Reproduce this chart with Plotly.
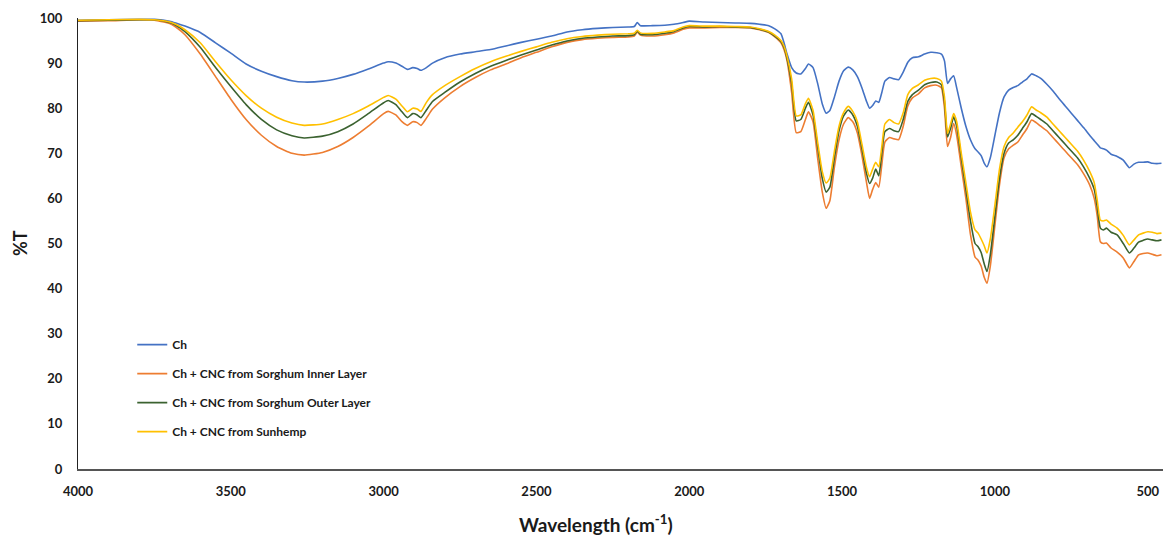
import plotly.graph_objects as go

wavenumber = [4000, 3900, 3800, 3750, 3700, 3680, 3650, 3600, 3550, 3500, 3450, 3400, 3350, 3300, 3260, 3200, 3150, 3100, 3050, 3000,
              2985, 2960, 2940, 2922, 2905, 2890, 2878, 2860, 2840, 2800, 2750, 2700, 2650, 2600, 2550, 2500, 2450, 2400, 2350, 2300,
              2250, 2200, 2180, 2170, 2160, 2120, 2080, 2050, 2020, 2000, 1950, 1900, 1850, 1800, 1770, 1740, 1720, 1700, 1690, 1680,
              1665, 1650, 1635, 1620, 1610, 1595, 1580, 1565, 1552, 1540, 1525, 1510, 1495, 1480, 1465, 1450, 1435, 1420, 1410, 1400,
              1390, 1380, 1370, 1360, 1345, 1330, 1315, 1300, 1285, 1270, 1250, 1230, 1210, 1190, 1175, 1165, 1155, 1145, 1135, 1125,
              1110, 1095, 1080, 1065, 1055, 1045, 1035, 1026, 1015, 1000, 985, 970, 955, 940, 925, 910, 895, 880, 865, 850,
              830, 810, 790, 770, 750, 730, 710, 690, 675, 665, 655, 645, 635, 620, 600, 580, 560, 545, 530, 515,
              500, 485, 470, 455]

ch = [99.5, 99.6, 99.7, 99.7, 99.3, 98.9, 98.2, 96.8, 94.5, 92.2, 89.8, 88.2, 87.0, 86.1, 85.8, 86.0, 86.6, 87.5, 88.7, 90.0,
      90.3, 90.0, 89.3, 88.6, 89.0, 88.8, 88.4, 89.0, 90.0, 91.2, 92.0, 92.5, 93.0, 93.8, 94.6, 95.3, 96.0, 96.9, 97.4, 97.7,
      97.9, 98.0, 98.1, 99.0, 98.3, 98.3, 98.4, 98.6, 99.0, 99.3, 99.1, 99.0, 98.9, 98.8, 98.6, 98.3, 97.6, 96.5, 94.5, 92.0,
      89.0, 87.8, 87.6, 88.8, 89.8, 89.0, 85.5, 81.0, 78.9, 79.5, 82.5, 86.0, 88.3, 89.1, 88.5, 87.0, 84.5, 81.5, 80.0, 80.6,
      81.6, 81.3, 83.5, 86.0, 86.8, 86.5, 86.3, 88.0, 90.2, 91.2, 91.4, 92.0, 92.4, 92.3, 92.0, 90.5, 85.5, 86.5, 87.2, 84.5,
      80.0, 76.0, 73.0, 71.0, 70.3, 69.5, 67.8, 67.0, 69.0, 74.0, 79.0, 82.5, 84.0, 84.6, 85.0, 85.8, 86.5, 87.6, 87.2, 86.6,
      85.3, 83.8, 82.1, 80.5, 78.9, 77.3, 75.7, 74.0, 72.8, 72.0, 71.2, 71.0, 70.7, 69.8, 69.3, 68.5, 66.8, 67.6, 68.0, 68.0,
      68.1, 67.8, 67.7, 67.8]

inner = [99.3, 99.4, 99.6, 99.5, 98.8, 98.0, 96.3, 92.0, 87.0, 82.0, 77.5, 74.0, 71.5, 70.0, 69.6, 70.2, 71.5, 73.5, 76.0, 78.8,
         79.3, 78.5, 77.0, 76.2, 77.0, 76.8, 76.2, 77.8, 79.8, 82.3, 84.8, 86.8, 88.5, 89.8, 91.2, 92.4, 93.6, 94.6, 95.2, 95.5,
         95.7, 95.8, 96.0, 96.9, 96.2, 96.0, 96.3, 96.7, 97.5, 97.8, 97.8, 97.9, 97.9, 97.8, 97.4, 96.8, 95.8, 94.5, 93.0, 90.5,
         83.5, 74.6, 74.8, 77.5, 79.2, 77.0, 69.0, 61.5, 57.8, 59.5, 67.0, 73.0, 76.5, 77.9, 77.0, 74.5, 69.5, 63.5, 60.0, 62.0,
         63.5, 62.5, 67.5, 72.5, 73.5, 73.2, 73.0, 76.0, 80.5, 82.3, 83.2, 84.5, 85.0, 85.1, 84.5, 80.0, 71.5, 73.5, 76.6, 74.0,
         67.0, 60.0, 52.0, 47.0, 46.3, 45.0, 42.5, 41.2, 45.0, 54.0, 63.0, 69.0, 71.0, 71.8, 72.5, 74.0, 75.5, 77.4, 76.8, 76.0,
         75.0, 73.5, 72.0, 70.5, 69.0, 67.5, 65.5, 63.0, 60.0, 56.0, 50.4, 50.0, 50.1, 49.0, 48.1, 46.8, 44.6, 46.0, 47.5, 47.8,
         47.9, 47.6, 47.3, 47.5]

outer = [99.4, 99.5, 99.6, 99.6, 99.0, 98.4, 97.0, 93.5, 89.0, 84.8, 80.8, 77.5, 75.2, 73.9, 73.4, 73.8, 74.8, 76.5, 78.8, 81.2,
         81.7, 80.8, 79.2, 77.9, 78.8, 78.5, 77.9, 79.6, 81.5, 83.5, 85.8, 87.7, 89.3, 90.6, 91.8, 92.9, 94.0, 94.9, 95.5, 95.8,
         96.0, 96.1, 96.3, 97.1, 96.4, 96.3, 96.6, 97.0, 97.8, 98.1, 98.0, 98.1, 98.0, 97.9, 97.5, 96.9, 96.0, 94.8, 93.5, 91.0,
         85.5, 77.2, 77.5, 80.0, 81.3, 78.5, 71.5, 64.5, 61.4, 62.5, 69.0, 75.0, 78.3, 79.6, 78.5, 76.0, 71.0, 65.5, 63.3, 64.5,
         66.5, 65.0, 70.0, 74.8, 75.5, 75.0, 74.8, 77.5, 81.5, 83.0, 84.0, 85.2, 85.7, 85.8, 85.2, 81.5, 73.6, 75.5, 78.1, 76.0,
         69.0, 62.0, 55.0, 50.0, 49.3, 48.0, 45.5, 43.8, 47.5, 56.0, 64.5, 70.0, 72.3, 73.0, 74.0, 75.5, 77.0, 78.8, 78.2, 77.5,
         76.5, 75.0, 73.5, 72.0, 70.5, 69.0, 67.0, 64.5, 62.0, 58.0, 53.4, 53.0, 53.4, 52.5, 51.9, 50.0, 47.9, 49.0, 50.3, 50.7,
         51.0, 50.8, 50.6, 50.8]

sunhemp = [99.5, 99.6, 99.7, 99.6, 99.1, 98.6, 97.4, 94.5, 90.3, 86.3, 82.8, 80.0, 78.0, 76.7, 76.2, 76.5, 77.5, 78.8, 80.5, 82.4,
           82.8, 82.0, 80.5, 79.2, 80.0, 79.8, 79.3, 81.3, 83.0, 85.0, 87.0, 88.8, 90.3, 91.5, 92.6, 93.6, 94.6, 95.4, 95.9, 96.2,
           96.4, 96.5, 96.6, 97.3, 96.7, 96.6, 96.9, 97.2, 98.0, 98.3, 98.2, 98.2, 98.1, 98.0, 97.6, 97.0, 96.2, 95.0, 93.8, 91.5,
           86.5, 78.3, 78.5, 81.0, 82.2, 79.5, 72.5, 66.0, 63.4, 64.5, 70.5, 76.0, 79.0, 80.4, 79.3, 77.0, 72.0, 66.8, 64.8, 66.5,
           68.0, 67.0, 71.5, 76.5, 77.5, 76.8, 76.5, 79.0, 83.0, 84.4, 85.2, 86.2, 86.6, 86.6, 86.0, 82.5, 74.4, 76.5, 78.8, 77.0,
           70.0, 63.5, 57.0, 53.0, 52.3, 51.0, 49.5, 47.9, 51.0, 58.5, 66.5, 71.5, 73.5, 74.5, 75.8, 77.0, 78.5, 80.3, 79.6, 79.0,
           78.0, 76.5, 75.0, 73.5, 72.0, 70.5, 68.5, 66.0, 63.5, 59.5, 55.2, 55.0, 55.2, 54.3, 53.4, 51.8, 49.7, 50.8, 51.9, 52.3,
           52.6, 52.5, 52.2, 52.3]

series_names = ["Ch", "Ch + CNC from Sorghum Inner Layer", "Ch + CNC from Sorghum Outer Layer", "Ch + CNC from Sunhemp"]
series_values = [ch, inner, outer, sunhemp]
series_colors = ["#4472C4", "#ED7D31", "#3B6230", "#FFC000"]

x_ticks = [4000, 3500, 3000, 2500, 2000, 1500, 1000, 500]
y_ticks = [0, 10, 20, 30, 40, 50, 60, 70, 80, 90, 100]

fig = go.Figure()
for i, (name, vals, col) in enumerate(zip(series_names, series_values, series_colors)):
    fig.add_trace(go.Scatter(
        x=wavenumber, y=vals, name=name, mode="lines",
        line=dict(color=col, width=1.6, shape="spline", smoothing=0.5),
        legendgroup=f"g{i}",
    ))

W, H = 1166, 539
l, r, t, b = 78, 3, 18, 70
pw, ph = W - l - r, H - t - b

font_family = "Lato, 'Open Sans', sans-serif"
fig.update_layout(
    width=W, height=H,
    margin=dict(l=l, r=r, t=t, b=b),
    paper_bgcolor="white", plot_bgcolor="white",
    font=dict(family=font_family, color="#1a1a1a"),
    showlegend=True,
    legend=dict(
        x=0.05, y=0.308, xanchor="left", yanchor="top",
        bgcolor="rgba(255,255,255,0)",
        font=dict(size=12, family=font_family, color="#1a1a1a", weight="bold"),
        tracegroupgap=10,
        itemwidth=30,
    ),
    xaxis=dict(
        range=[4000, 450], tickvals=x_ticks, ticktext=[str(v) for v in x_ticks],
        showgrid=False, zeroline=False, showline=True, linecolor="#555555", linewidth=1.5,
        ticks="", ticklabelstandoff=10,
        tickfont=dict(size=13, family=font_family, color="#1a1a1a", weight="bold"),
    ),
    yaxis=dict(
        range=[0, 100], tickvals=y_ticks, showgrid=False, zeroline=False,
        showline=True, linecolor="#222222", linewidth=1,
        ticks="", ticklabelstandoff=12,
        tickfont=dict(size=13, family=font_family, color="#1a1a1a", weight="bold"),
    ),
    annotations=[
        dict(text="Wavelength (cm<sup>-1</sup>)", x=(596 - l) / pw, y=-(523 - (H - b)) / ph,
             xref="paper", yref="paper", xanchor="center", yanchor="middle", showarrow=False,
             font=dict(size=19, family=font_family, color="#1a1a1a", weight="bold")),
        dict(text="%T", x=-(l - 20) / pw, y=(H - b - 243) / ph, xref="paper", yref="paper",
             xanchor="center", yanchor="middle", textangle=-90, showarrow=False,
             font=dict(size=18, family=font_family, color="#1a1a1a", weight="bold")),
    ],
)

fig.write_html("out.html", config={"displayModeBar": False},
               post_script="document.body.style.margin='0';document.body.style.overflow='hidden';")
